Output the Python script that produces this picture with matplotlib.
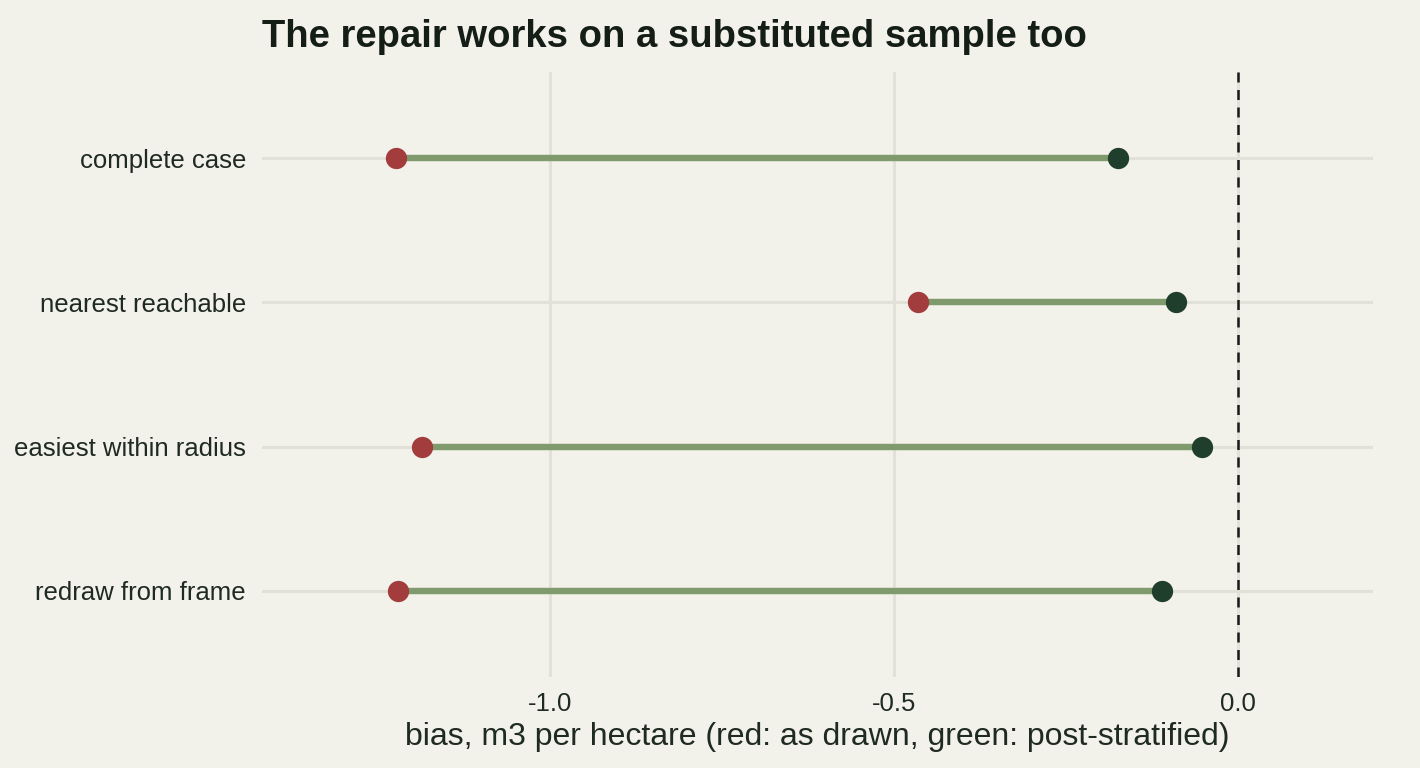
import numpy as np
import matplotlib
matplotlib.use("Agg")
import matplotlib.pyplot as plt

plt.rcParams["font.family"] = ["Liberation Sans", "DejaVu Sans"]

methods = ["complete case", "nearest reachable", "easiest within radius", "redraw from frame"]
bias_drawn = [-1.224, -0.465, -1.186, -1.221]
bias_post = [-0.174, -0.090, -0.052, -0.110]
xticks = [-1.0, -0.5, 0.0]

bg = "#F2F1EA"
grid_c = "#E2E1D8"
text_c = "#1F2A22"

fig = plt.figure(figsize=(14.2, 7.68), dpi=100, facecolor=bg)
ax = fig.add_axes([262 / 1420, 1 - 677 / 768, (1373 - 262) / 1420, (677 - 72) / 768])
ax.set_facecolor(bg)

y = np.arange(len(methods))[::-1]

for yy in y:
    ax.axhline(yy, color=grid_c, lw=2.2, zorder=0)
for xt in xticks:
    ax.axvline(xt, color=grid_c, lw=2.2, zorder=0)
ax.axvline(0.0, color="#1a1a1a", lw=1.8, ls=(0, (4, 3)), zorder=1)

for yy, a, b in zip(y, bias_drawn, bias_post):
    ax.plot([a, b], [yy, yy], color="#7F9A6C", lw=4.6, solid_capstyle="butt", zorder=2)
ax.scatter(bias_drawn, y, s=235, color="#A33D3D", zorder=3, linewidths=0)
ax.scatter(bias_post, y, s=235, color="#1F3F2C", zorder=3, linewidths=0)

ax.set_xlim(-1.419, 0.197)
ax.set_ylim(-0.6, 3.6)
ax.set_yticks(y)
ax.set_yticklabels(methods, fontsize=18.5, color=text_c)
ax.set_xticks(xticks)
ax.set_xticklabels(["-1.0", "-0.5", "0.0"], fontsize=18.5, color=text_c)
ax.tick_params(length=0)
ax.tick_params(axis="x", pad=11)
ax.tick_params(axis="y", pad=11.5)
for s in ax.spines.values():
    s.set_visible(False)

ax.set_xlabel("bias, m3 per hectare (red: as drawn, green: post-stratified)",
              fontsize=23, color=text_c, labelpad=4)
fig.text(262 / 1420, 1 - 37 / 768, "The repair works on a substituted sample too",
         fontsize=27.5, fontweight="bold", color="#141E17", va="center", ha="left")

fig.savefig("out.png", dpi=100, facecolor=bg)
